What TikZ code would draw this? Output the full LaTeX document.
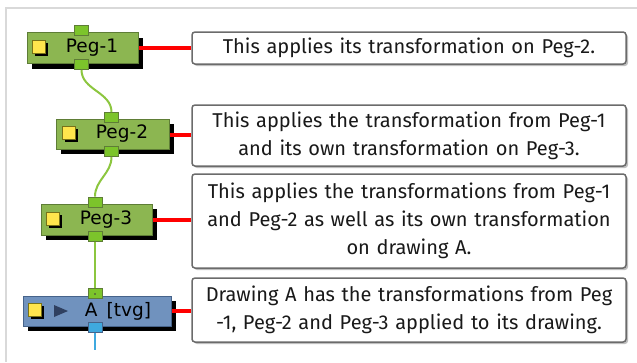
\documentclass[tikz,border=0pt]{standalone}
\usepackage{fontspec}
\setmainfont{Fira Sans}
\newfontfamily\nodefont{DejaVu Sans}
\usetikzlibrary{positioning, shadows}

\definecolor{pegfill}{HTML}{8CB651}
\definecolor{pegdraw}{HTML}{5E7D36}
\definecolor{portfill}{HTML}{7CC42B}
\definecolor{drawfill}{HTML}{7092BE}
\definecolor{drawdraw}{HTML}{46638A}
\definecolor{wirecol}{HTML}{8CC63F}
\definecolor{bluewire}{HTML}{3FA9DF}
\definecolor{iconfill}{HTML}{FFE54D}
\definecolor{playcol}{HTML}{2F4060}
\definecolor{framecol}{HTML}{D9D9D9}

\begin{document}
\begin{tikzpicture}[
    x=1pt, y=-1pt,
    pegbox/.style={draw=pegdraw, line width=1pt, fill=pegfill, minimum height=31pt, minimum width=111pt,
        inner sep=0pt, font=\nodefont\fontsize{18.5}{20}\selectfont,
        drop shadow={shadow xshift=5pt, shadow yshift=-5pt, fill=black, opacity=1}},
    drawbox/.style={pegbox, draw=drawdraw, fill=drawfill, minimum width=148pt, minimum height=30pt},
    port/.style={draw=pegdraw, line width=0.8pt, fill=portfill, minimum width=14pt, minimum height=10pt, inner sep=0pt},
    blueport/.style={port, draw=drawdraw, fill=bluewire},
    icon/.style={draw=olive!80!black, line width=0.8pt, fill=iconfill, minimum size=13pt, inner sep=0pt,
        drop shadow={shadow xshift=2.5pt, shadow yshift=-2.5pt, fill=black, opacity=1}},
    note/.style={draw=black!58, line width=1.5pt, fill=white, rounded corners=3pt, text width=430pt,
        minimum width=434pt, align=center, inner sep=0pt, font=\fontsize{20}{28}\selectfont, text=black!90,
        drop shadow={shadow xshift=2pt, shadow yshift=-2pt, fill=black!25, opacity=1}},
    wire/.style={wirecol, line width=2pt},
    tie/.style={red, line width=4pt}
]
\useasboundingbox (0,0) rectangle (637,362);
\draw[framecol, line width=2pt] (637,7.5) -- (6,7.5) -- (6,362);

% nodes
\node[pegbox] (p1) at (82.5,48) {\hspace*{19pt}Peg-1};
\node[pegbox, minimum width=113pt, minimum height=30pt] (p2) at (112.5,134) {\hspace*{19pt}Peg-2};
\node[pegbox] (p3) at (96.5,219.5) {\hspace*{19pt}Peg-3};
\node[drawbox] (a) at (97,311) {\hspace*{42pt}A\hspace{9pt}[tvg]};

\node[icon] (i1) at (39,46.5) {};
\node[icon] (i2) at (69,133) {};
\node[icon] (i3) at (53,218.5) {};
\node[icon] (ia) at (35,310) {};
\fill[playcol] (54,305) -- (68,311) -- (54,317) -- cycle;

% ports
\node[port] (p1in) at (81.5,30) {};
\node[port] (p1out) at (81.5,64.5) {};
\node[port] (p2in) at (111.5,117.5) {};
\node[port] (p2out) at (111.5,151.5) {};
\node[port] (p3in) at (95,202) {};
\node[port] (p3out) at (95,236.5) {};
\node[port] (ain) at (95,293.5) {};
\fill[pegdraw] (94,292.5) rectangle (96,294.5);
\node[blueport] (aout) at (95,327.5) {};
\coordinate (aend) at (95,350);

% notes
\node[note, minimum height=32pt] (t1) at (409,48) {This applies its transformation on Peg-2.};
\node[note, minimum height=61pt] (t2) at (409,135.5) {This applies the transformation from Peg-1\\and its own transformation on Peg-3.};
\node[note, minimum height=94pt] (t3) at (409,221) {This applies the transformations from Peg-1\\and Peg-2 as well as its own transformation\\on drawing A.};
\node[note, minimum height=64pt] (t4) at (409,310) {Drawing A has the transformations from Peg\\-1, Peg-2 and Peg-3 applied to its drawing.};

% connectors
\draw[wire] (p1out.south) to[out=-90, in=90] (p2in.north);
\draw[wire] (p2out.south) to[out=-90, in=90] (p3in.north);
\draw[wire] (p3out.south) -- (ain.north);
\draw[bluewire, line width=2pt] (aout.south) -- (aend);

\draw[tie] (p1.east) -- (p1.east -| t1.west);
\draw[tie] ([yshift=-1pt]p2.east) -- ([yshift=-1pt]p2.east -| t2.west);
\draw[tie] (p3.east) -- (p3.east -| t3.west);
\draw[tie] (a.east) -- (a.east -| t4.west);
\end{tikzpicture}
\end{document}
